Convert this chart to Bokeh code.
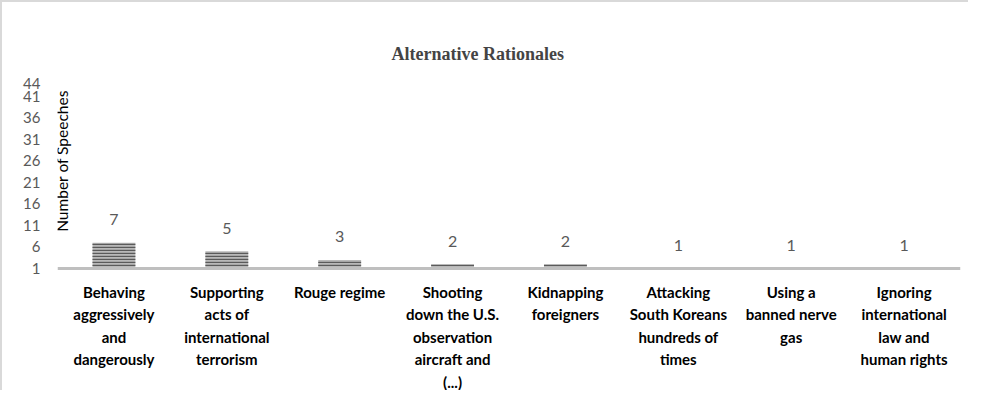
import math
from bokeh.plotting import figure
from bokeh.models import ColumnDataSource, FactorRange, Range1d, FixedTicker, Label, Span
from bokeh.core.properties import value
from bokeh.embed import file_html
from bokeh.resources import INLINE

categories = [
    "Behaving\naggressively\nand\ndangerously",
    "Supporting\nacts of\ninternational\nterrorism",
    "Rouge regime",
    "Shooting\ndown the U.S.\nobservation\naircraft and\n(...)",
    "Kidnapping\nforeigners",
    "Attacking\nSouth Koreans\nhundreds of\ntimes",
    "Using a\nbanned nerve\ngas",
    "Ignoring\ninternational\nlaw and\nhuman rights",
]
speeches = [7, 5, 3, 2, 2, 1, 1, 1]
y_ticks = [1, 6, 11, 16, 21, 26, 31, 36, 41, 44]
axis_min = 1
axis_max = 44

# layout (pixels inside the figure): frame top, baseline, frame bottom
FIG_H = 390
TOP_PX = 81
BASE_PX = 266
px_per_unit = (BASE_PX - TOP_PX) / (axis_max - axis_min)
range_start = axis_min - (FIG_H - BASE_PX) / px_per_unit

source = ColumnDataSource(dict(
    cat=categories,
    val=speeches,
    base=[axis_min] * len(speeches),
    txt=[str(v) for v in speeches],
))

p = figure(
    width=968, height=FIG_H,
    x_range=FactorRange(*categories, range_padding=0),
    y_range=Range1d(range_start, axis_max),
    x_axis_location=None,
    output_backend="svg", toolbar_location=None,
    min_border_left=55, min_border_right=10, min_border_top=TOP_PX, min_border_bottom=0,
    background_fill_color="white", border_fill_color="white",
    styles={"border-top": "2px solid #d9d9d9", "border-left": "2px solid #d9d9d9"},
)
p.outline_line_color = None
p.xgrid.grid_line_color = None
p.ygrid.grid_line_color = None

p.vbar(x="cat", bottom="base", top="val", width=0.38, source=source,
       fill_color="#b8b8b8", line_color=None,
       hatch_pattern="horizontal_line", hatch_color="#5a5a5a",
       hatch_scale=3, hatch_weight=1.4)

# baseline (category axis line)
p.add_layout(Span(location=axis_min, dimension="width", line_color="#bfbfbf", line_width=3))

# value labels
p.text(x="cat", y="val", text="txt", source=source,
       text_align="center", text_baseline="middle", y_offset=-23,
       text_font_size="16px", text_color="#595959", text_font=value("Lato"))

# category labels
p.text(x="cat", y="base", text="cat", source=source,
       text_align="center", text_baseline="top", y_offset=14,
       text_font_size="15px", text_font_style="bold", text_color="black",
       text_font=value("Lato"), text_line_height=1.25)

# Title
p.title.text = "Alternative Rationales"
p.title.text_font = "Liberation Serif"
p.title.text_font_style = "bold"
p.title.text_font_size = "18px"
p.title.align = "left"
p.title.offset = 334
p.title.standoff = 39

# Y axis
p.yaxis.ticker = FixedTicker(ticks=y_ticks)
p.yaxis.axis_line_color = None
p.yaxis.major_tick_line_color = None
p.yaxis.minor_tick_line_color = None
p.yaxis.major_tick_out = 0
p.yaxis.major_tick_in = 0
p.yaxis.major_label_standoff = 17
p.yaxis.major_label_text_font = "Lato"
p.yaxis.major_label_text_font_size = "15px"
p.yaxis.major_label_text_color = "#595959"

p.add_layout(Label(x=0, y=26, x_offset=4, text="Number of Speeches", angle=math.pi / 2,
                   text_align="center", text_baseline="middle",
                   text_font="Lato", text_font_size="15.5px", text_color="black"))

open("out.html", "w").write(file_html(p, INLINE))
